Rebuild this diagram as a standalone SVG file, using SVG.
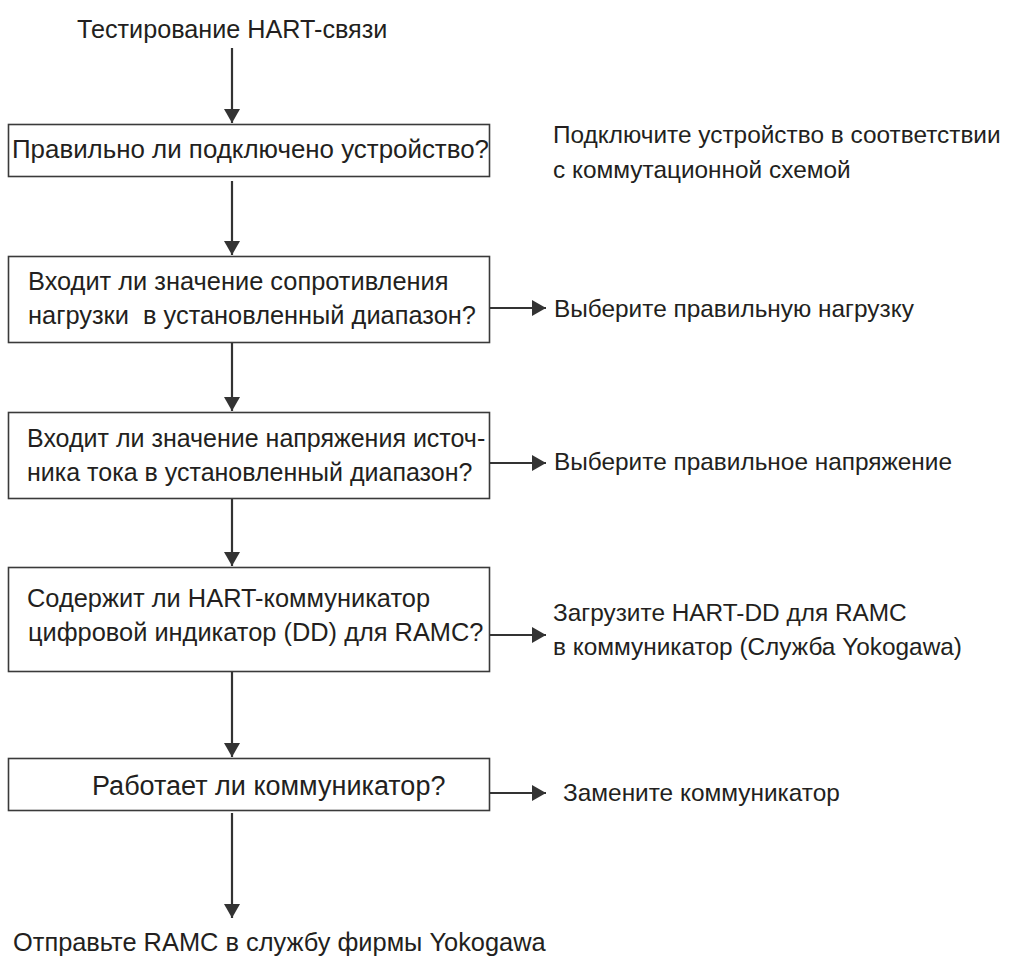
<svg xmlns="http://www.w3.org/2000/svg" width="1026" height="956" viewBox="0 0 1026 956">
<style>
text{font-family:"Liberation Sans",Arial,sans-serif;font-size:25.4px;fill:#231f20}
.side{font-size:24.4px}
.box{fill:#fff;stroke:#3a3a3a;stroke-width:1.6}
.con{stroke:#333;stroke-width:2.2;fill:none}
</style>
<defs>
<marker id="ah" viewBox="0 0 14 16" refX="14" refY="8" markerWidth="14" markerHeight="16" markerUnits="userSpaceOnUse" orient="auto">
<path d="M0,0 L14,8 L0,16 Z" fill="#333"/>
</marker>
</defs>
<rect width="1026" height="956" fill="#fff"/>
<g id="start"><text x="77" y="38" style="font-size:25.2px">Тестирование HART-связи</text></g>
<g id="n1"><rect class="box" x="8.5" y="124.5" width="481" height="52"/><text x="12" y="158" style="font-size:25.9px">Правильно ли подключено устройство?</text></g>
<g id="n1r"><text class="side" x="553" y="143">Подключите устройство в соответствии</text><text class="side" x="553" y="178">с коммутационной схемой</text></g>
<g id="n2"><rect class="box" x="8.5" y="256.5" width="481" height="86"/><text x="28" y="290">Входит ли значение сопротивления</text><text x="28" y="324" xml:space="preserve">нагрузки  в установленный диапазон?</text></g>
<g id="n2r"><text class="side" x="554" y="317">Выберите правильную нагрузку</text></g>
<g id="n3"><rect class="box" x="8.5" y="412.5" width="481" height="86"/><text x="27" y="447" style="font-size:25px">Входит ли значение напряжения источ-</text><text x="27" y="481" style="font-size:25px">ника тока в установленный диапазон?</text></g>
<g id="n3r"><text class="side" x="554" y="470">Выберите правильное напряжение</text></g>
<g id="n4"><rect class="box" x="8.5" y="567.5" width="481" height="104"/><text x="27" y="607">Содержит ли HART-коммуникатор</text><text x="28" y="641">цифровой индикатор (DD) для RAMC?</text></g>
<g id="n4r"><text class="side" x="553" y="621">Загрузите HART-DD для RAMC</text><text class="side" x="553" y="655">в коммуникатор (Служба Yokogawa)</text></g>
<g id="n5"><rect class="box" x="8.5" y="758.5" width="481" height="52"/><text x="92" y="795" style="font-size:27px">Работает ли коммуникатор?</text></g>
<g id="n5r"><text class="side" x="563" y="801">Замените коммуникатор</text></g>
<g id="end"><text x="13" y="951">Отправьте RAMC в службу фирмы Yokogawa</text></g>
<g id="connectors">
<line class="con" x1="232" y1="48" x2="232" y2="123" marker-end="url(#ah)"/>
<line class="con" x1="232" y1="181" x2="232" y2="255" marker-end="url(#ah)"/>
<line class="con" x1="232" y1="343" x2="232" y2="411" marker-end="url(#ah)"/>
<line class="con" x1="232" y1="499" x2="232" y2="566" marker-end="url(#ah)"/>
<line class="con" x1="232" y1="672" x2="232" y2="757" marker-end="url(#ah)"/>
<line class="con" x1="232" y1="813" x2="232" y2="918" marker-end="url(#ah)"/>
<line class="con" x1="490" y1="308" x2="546" y2="308" marker-end="url(#ah)"/>
<line class="con" x1="490" y1="463" x2="546" y2="463" marker-end="url(#ah)"/>
<line class="con" x1="490" y1="635" x2="546" y2="635" marker-end="url(#ah)"/>
<line class="con" x1="490" y1="793" x2="546" y2="793" marker-end="url(#ah)"/>
</g>
</svg>
